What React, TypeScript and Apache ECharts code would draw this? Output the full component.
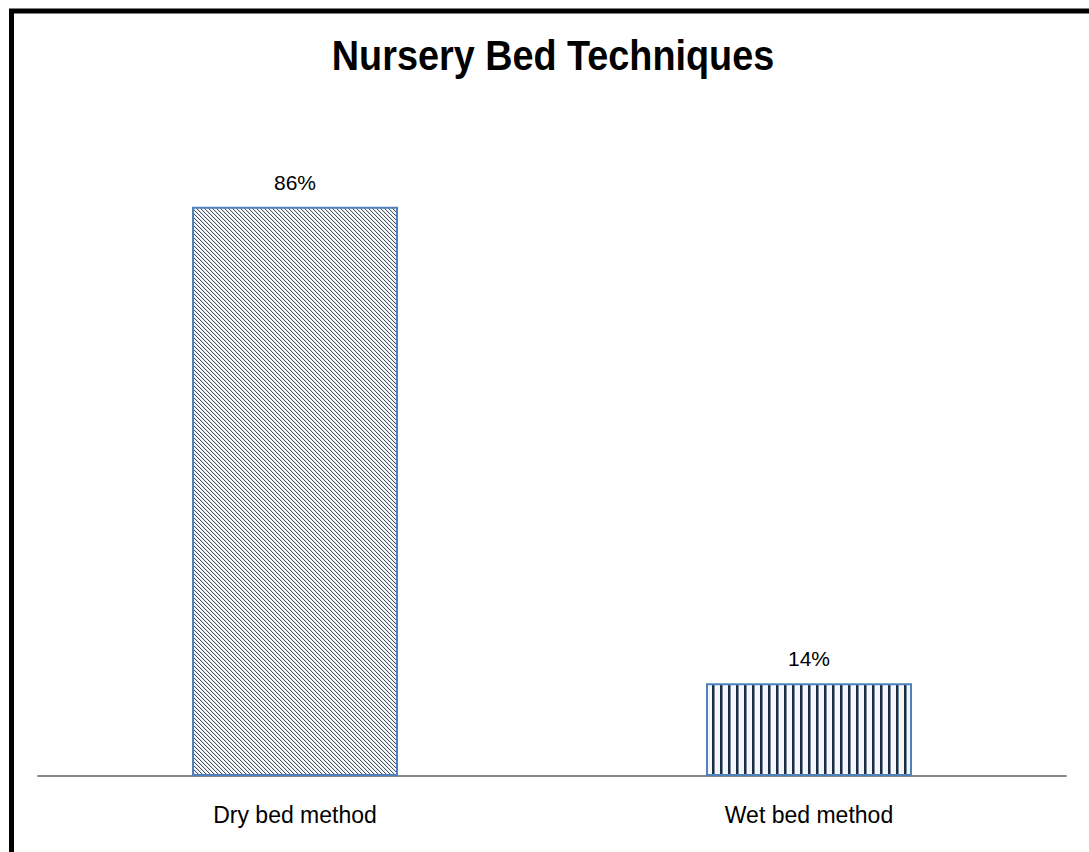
import React, { useEffect, useRef } from "react";
import * as echarts from "echarts";

const titleText = "Nursery Bed Techniques";
const categories = ["Dry bed method", "Wet bed method"];
const shares = [86, 14];
const axisMax = 100;

// Small hatch tiles used as bar fills
function diagonalTile(): HTMLCanvasElement {
  const c = document.createElement("canvas");
  c.width = 8;
  c.height = 8;
  const ctx = c.getContext("2d")!;
  ctx.fillStyle = "#ffffff";
  ctx.fillRect(0, 0, 8, 8);
  for (let y = 0; y < 8; y++) {
    for (let x = 0; x < 8; x++) {
      const k = (((x - y) % 4) + 4) % 4;
      if (k === 0) {
        ctx.fillStyle = "#465366";
        ctx.fillRect(x, y, 1, 1);
      } else if (k === 1) {
        ctx.fillStyle = "#d8dde4";
        ctx.fillRect(x, y, 1, 1);
      }
    }
  }
  return c;
}

function verticalTile(): HTMLCanvasElement {
  const c = document.createElement("canvas");
  c.width = 8;
  c.height = 8;
  const ctx = c.getContext("2d")!;
  ctx.fillStyle = "#f4f8fc";
  ctx.fillRect(0, 0, 8, 8);
  ctx.fillStyle = "#1f2c3c";
  ctx.fillRect(0, 0, 2, 8);
  ctx.fillStyle = "#7d8ea4";
  ctx.fillRect(2, 0, 1, 8);
  return c;
}

export default function App() {
  const ref = useRef<HTMLDivElement>(null);

  useEffect(() => {
    if (!ref.current) return;
    const chart = echarts.init(ref.current, null, { renderer: "svg" });
    const fills = [diagonalTile(), verticalTile()];

    chart.setOption({
      animation: false,
      backgroundColor: "#ffffff",
      graphic: [
        {
          type: "rect",
          shape: { x: 11.5, y: 11, width: 2000, height: 2000 },
          style: { fill: "none", stroke: "#000000", lineWidth: 5 },
          silent: true,
        },
        {
          // condensed bold heading
          type: "text",
          x: 553,
          y: 55,
          scaleX: 0.9,
          style: {
            text: titleText,
            x: 0,
            y: 0,
            align: "center",
            verticalAlign: "middle",
            fontFamily: "Liberation Sans",
            fontWeight: "bold",
            fontSize: 42,
            fill: "#000000",
          },
          silent: true,
        },
      ],
      grid: { left: 38, right: 23, top: 114, bottom: 76 },
      xAxis: {
        type: "category",
        data: categories,
        axisLine: { show: true, lineStyle: { color: "#868686", width: 2 } },
        axisTick: { show: false },
        axisLabel: {
          margin: 27,
          fontFamily: "Liberation Sans",
          fontSize: 23,
          color: "#000000",
        },
      },
      yAxis: {
        type: "value",
        min: 0,
        max: axisMax,
        show: false,
        splitLine: { show: false },
      },
      series: [
        {
          type: "bar",
          barWidth: 206,
          data: shares.map((v, i) => ({
            value: v,
            itemStyle: {
              color: {
                image: fills[i],
                repeat: "repeat",
                imageWidth: 8,
                imageHeight: 8,
              },
              borderColor: "#4f81bd",
              borderWidth: 2,
            },
          })),
          label: {
            show: true,
            position: "top",
            distance: 14,
            formatter: "{c}%",
            fontFamily: "Liberation Sans",
            fontSize: 21,
            color: "#000000",
          },
        },
      ],
    });

    return () => chart.dispose();
  }, []);

  return (
    <div
      ref={ref}
      style={{ position: "absolute", left: 0, top: 0, width: 1089, height: 852 }}
    />
  );
}
